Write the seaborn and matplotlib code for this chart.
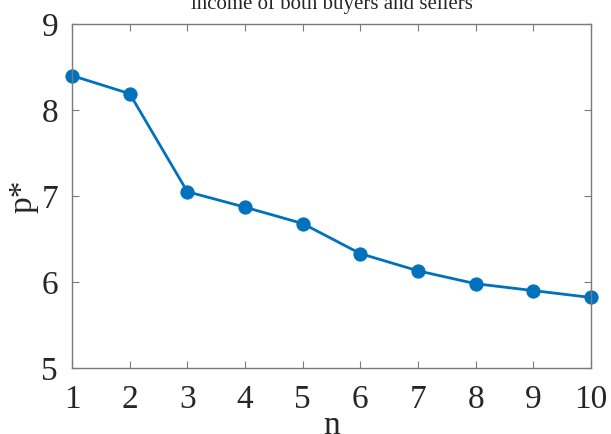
import matplotlib
matplotlib.use("Agg")
import matplotlib.pyplot as plt
import seaborn as sns
import pandas as pd

# Equilibrium price p* against number of participants n
n_values = [1, 2, 3, 4, 5, 6, 7, 8, 9, 10]
p_star = [8.40, 8.19, 7.05, 6.87, 6.68, 6.33, 6.13, 5.98, 5.90, 5.82]
x_ticks = [1, 2, 3, 4, 5, 6, 7, 8, 9, 10]
y_ticks = [5, 6, 7, 8, 9]
title_text = "income of both buyers and sellers"

sns.set_theme(style="white")
plt.rcParams["font.family"] = ["Liberation Serif", "DejaVu Serif"]

df = pd.DataFrame({"n": n_values, "p": p_star})

fig = plt.figure(figsize=(6.11, 4.34), dpi=100)
ax = fig.add_axes([72 / 611, 1 - 368 / 434, (591 - 72) / 611, (368 - 24) / 434])

line_color = "#0072BD"
sns.lineplot(data=df, x="n", y="p", ax=ax, color=line_color, linewidth=2.0,
             marker="o", markersize=9.5, markeredgecolor=line_color,
             markerfacecolor=line_color, clip_on=False)

ax.set_xlim(1, 10)
ax.set_ylim(5, 9)
ax.set_xticks(x_ticks)
ax.set_yticks(y_ticks)

spine_color = "#7a7a7a"
for side in ["left", "right", "top", "bottom"]:
    ax.spines[side].set_visible(True)
    ax.spines[side].set_color(spine_color)
    ax.spines[side].set_linewidth(1.0)

ax.tick_params(axis="both", which="both", direction="in", length=5, width=0.8,
               color=spine_color, labelsize=24, labelcolor="#262626",
               top=True, right=True, bottom=True, left=True)
ax.tick_params(axis="x", pad=12)
ax.tick_params(axis="y", pad=10)

ax.set_xlabel("n", fontsize=24, color="#262626", labelpad=-3)
ax.set_ylabel("p*", fontsize=24, color="#262626", labelpad=2)
ax.set_title(title_text, fontsize=15, color="#262626", pad=11)

ax.grid(False)
fig.savefig("out.png", dpi=100)
